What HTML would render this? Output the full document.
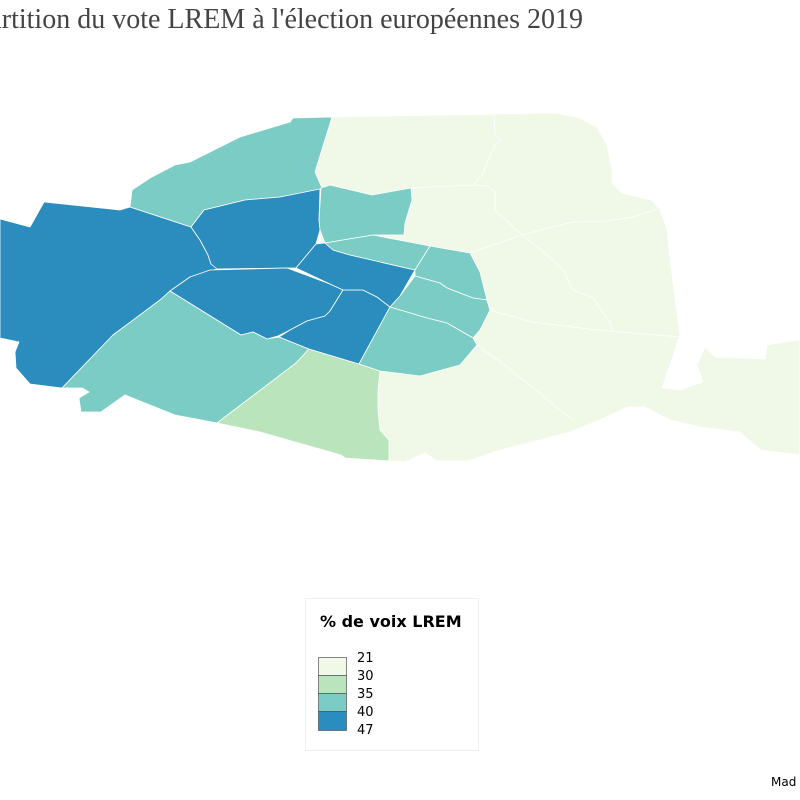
<!DOCTYPE html>
<html><head><meta charset="utf-8"><style>html,body{margin:0;padding:0;background:#fff}svg{display:block}</style></head>
<body>
<svg width="800" height="800" xmlns="http://www.w3.org/2000/svg">
<text x="583" y="28" text-anchor="end" font-family="Liberation Serif, serif" font-size="28" fill="#444">Répartition du vote LREM à l'élection européennes 2019</text>
<g stroke="#fff" stroke-width="0.8" stroke-linejoin="round">
<polygon fill="#f0f9e8" points="332,117 495,114 555,113 577,117 597,127 607,145 612,170 612,183 622,193 652,200 660,210 667,228 670,260 680,335 670,365 662,388 680,390 703,382 697,365 705,347 715,357 765,359 767,345 778,343 800,340 800,455 760,450 740,432 700,427 670,420 645,407 627,407 600,420 570,432 540,440 500,450 468,461 437,461 425,453 405,462 389,461 389,440 380,430 378,410 378,390 380,370 360,363 330,300 320,240 315,172"/>
<polygon fill="#2b8cbe" points="0,219 30,227 44,202 120,210 130,207 191,227 200,240 208,255 211,264 217,267 217,269 190,277 170,291 160,300 113,335 62,388 30,384 16,368 15,352 19,342 0,338"/>
<polygon fill="#7bccc4" points="130,207 132,190 150,178 175,165 190,162 240,137 290,122 293,118 332,117 315,172 322,188 320,190 280,197 245,200 204,210 191,227"/>
<polygon fill="#2b8cbe" points="191,227 204,210 245,200 280,197 320,189 319,220 320,230 316,244 296,268 287,268 217,269 211,264 208,255 200,240"/>
<polygon fill="#2b8cbe" points="170,291 190,277 210,270 287,268 330,284 343,290 330,311 325,316 307,321 290,330 278,336 267,339 253,332 241,335"/>
<polygon fill="#7bccc4" points="62,388 113,335 160,300 170,291 241,335 253,332 267,339 279,337 309,349 296,363 217,423 175,415 125,395 101,412 81,412 79,398 89,392 82,388"/>
<polygon fill="#bae4bc" points="217,423 296,363 309,349 359,364 380,371 378,390 378,410 380,430 389,440 389,461 345,458 341,455 260,432"/>
<polygon fill="#2b8cbe" points="343,290 363,290 377,297 390,307 359,364 309,349 279,337 290,330 307,321 325,316 330,311"/>
<polygon fill="#2b8cbe" points="296,268 316,244 325,243 333,250 350,255 415,270 400,296 390,307 377,297 363,290 343,290 330,284"/>
<polygon fill="#7bccc4" points="321,188 330,185 372,195 411,188 412,200 405,223 404,235 373,235 325,243 320,230 319,220"/>
<polygon fill="#7bccc4" points="325,243 373,235 430,246 415,270 350,255 333,250"/>
<polygon fill="#7bccc4" points="430,246 470,253 480,272 487,300 473,298 447,288 440,283 415,276 415,270"/>
<polygon fill="#7bccc4" points="415,276 440,283 447,288 473,298 487,300 490,310 480,330 473,338 447,323 427,318 390,307 400,296"/>
<polygon fill="#7bccc4" points="390,307 427,318 447,323 473,338 477,345 460,365 420,376 380,371 359,364"/>
</g>
<g stroke="#fff" stroke-width="0.8" fill="none" stroke-linejoin="round">
<polyline points="494,115 495,135 501,140 495,145 482,175 473,185"/>
<polyline points="411,188 473,185 488,186 495,192 495,210 522,235 547,255 563,270 573,290 592,297 610,322 612,331"/>
<polyline points="470,253 522,235 553,227 573,222 607,221 633,217 658,209"/>
<polyline points="487,300 490,310 503,314 533,322 597,330 680,337"/>
<polyline points="477,345 507,367 527,383 575,422"/>
</g>
<rect x="305.5" y="598.5" width="173" height="152" fill="#fff" stroke="#eee"/>
<text x="320" y="627" font-family="DejaVu Sans, sans-serif" font-weight="bold" font-size="16" fill="#000">% de voix LREM</text>
<g stroke="#555" stroke-width="0.7">
<rect x="318.5" y="657.5" width="28" height="18" fill="#f0f9e8"/>
<rect x="318.5" y="675.5" width="28" height="18" fill="#bae4bc"/>
<rect x="318.5" y="693.5" width="28" height="18" fill="#7bccc4"/>
<rect x="318.5" y="711.5" width="28" height="19" fill="#2b8cbe"/>
</g>
<g font-family="DejaVu Sans, sans-serif" font-size="13" fill="#000">
<text x="357" y="662">21</text><text x="357" y="680">30</text><text x="357" y="698">35</text><text x="357" y="716">40</text><text x="357" y="734">47</text>
</g>
<text x="771" y="786" font-family="DejaVu Sans, sans-serif" font-size="12" fill="#000">Mad</text>
</svg>
</body></html>
